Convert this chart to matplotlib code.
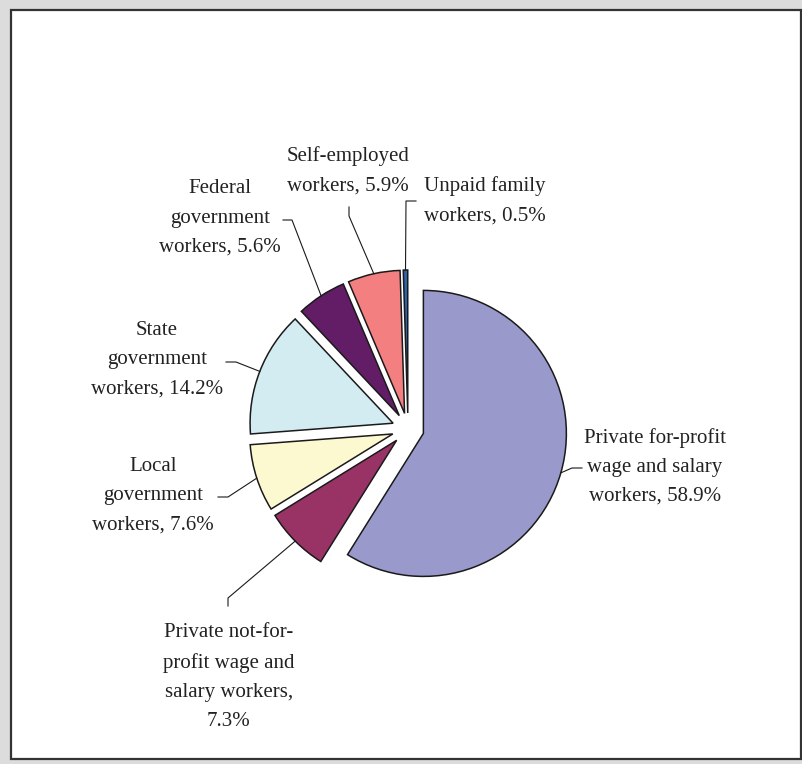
import numpy as np
import matplotlib.pyplot as plt
from matplotlib.patches import Rectangle

# Employment by class of worker, share of total (%), clockwise from 12 o'clock
categories = [
    "Private for-profit wage and salary workers",
    "Private not-for-profit wage and salary workers",
    "Local government workers",
    "State government workers",
    "Federal government workers",
    "Self-employed workers",
    "Unpaid family workers",
]
shares = [58.9, 7.3, 7.6, 14.2, 5.6, 5.9, 0.5]
label_texts = [
    "Private for-profit\nwage and salary\nworkers, {}%",
    "Private not-for-\nprofit wage and\nsalary workers,\n{}%",
    "Local\ngovernment\nworkers, {}%",
    "State\ngovernment\nworkers, {}%",
    "Federal\ngovernment\nworkers, {}%",
    "Self-employed\nworkers, {}%",
    "Unpaid family\nworkers, {}%",
]
colors = ["#9999cc", "#993366", "#fcf8cf", "#d2ecf2", "#631d66", "#f47f80", "#2e63ae"]

W, H = 803, 764


def px(x, y):
    # pixel position (from top-left) -> axes data coords
    return x, H - y


# label centre, leader elbow, leader end (pixels from top-left)
label_layout = [
    ((655, 467), (572, 468), (582, 468)),
    ((229, 677), (228, 598), (228, 606)),
    ((153, 496), (228, 497), (218, 497)),
    ((157, 360), (236, 362), (226, 362)),
    ((220, 218), (292, 220), (283, 220)),
    ((348, 171), (349, 216), (349, 207)),
    ((485, 201), (406, 201), (416, 201)),
]

fig = plt.figure(figsize=(W / 100, H / 100), dpi=100, facecolor="#dcdcdc")
ax = fig.add_axes([0, 0, 1, 1])
ax.set_facecolor("none")

# white panel with dark border
ax.add_patch(Rectangle(px(11, 759), 790, 749, facecolor="white",
                       edgecolor="#333333", linewidth=1.6, zorder=0))

# explode is in data units here (pixels), every slice pulled out the same
wedges, _ = ax.pie(shares, colors=colors, startangle=90, counterclock=False,
                   explode=[16] * len(shares), radius=143,
                   center=px(408, 429),
                   wedgeprops=dict(edgecolor="#1a1a1a", linewidth=1.1))

for w, tmpl, val, (txt, elbow, end) in zip(wedges, label_texts, shares, label_layout):
    mid = np.deg2rad((w.theta1 + w.theta2) / 2)
    ax_, ay_ = w.center[0] + w.r * np.cos(mid), w.center[1] + w.r * np.sin(mid)
    ex, ey = px(*elbow)
    nx, ny = px(*end)
    ax.plot([ax_, ex, nx], [ay_, ey, ny], color="#1a1a1a", linewidth=0.8, zorder=3)
    tx, ty = px(*txt)
    ax.text(tx, ty, tmpl.format(val), ha="center", va="center", multialignment="center",
            fontsize=15, family="Liberation Serif", color="#222222", linespacing=1.72)

ax.set_xlim(0, W)
ax.set_ylim(0, H)
ax.set_aspect("equal")
ax.axis("off")

fig.savefig("out.png", dpi=100, facecolor=fig.get_facecolor())
